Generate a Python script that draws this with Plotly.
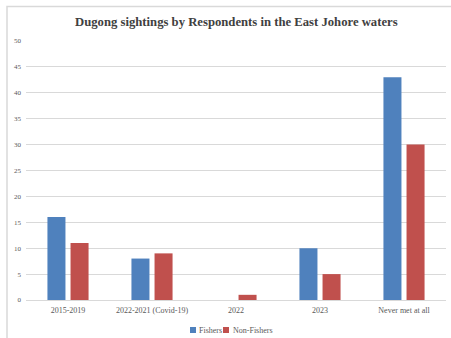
import plotly.graph_objects as go

categories = ["2015-2019", "2022-2021 (Covid-19)", "2022", "2023", "Never met at all"]
fishers = [16, 8, 0, 10, 43]
non_fishers = [11, 9, 1, 5, 30]
y_ticks = [0, 5, 10, 15, 20, 25, 30, 35, 40, 45, 50]
series_names = ["Fishers", "Non-Fishers"]
series_colors = ["#4F81BD", "#C0504D"]

W, H = 451, 338
ML, MR, MT, MB = 26, 5, 41, 38
PW, PH = W - ML - MR, H - MT - MB


def px_x(px):
    return (px - ML) / PW


def px_y(py):
    return (H - MB - py) / PH


font_family = "Liberation Serif"
tick_color = "#595959"

fig = go.Figure()
for name, vals, col in zip(series_names, [fishers, non_fishers], series_colors):
    fig.add_trace(go.Bar(name=name, x=categories, y=vals, marker_color=col,
                         marker_line_width=0, showlegend=False))

fig.update_layout(
    width=W, height=H,
    margin=dict(l=ML, r=MR, t=MT, b=MB, pad=0, autoexpand=False),
    paper_bgcolor="white", plot_bgcolor="white",
    barmode="group", bargap=0.45, bargroupgap=0.22,
    font=dict(family=font_family, size=8, color=tick_color),
    title=dict(text="<b>Dugong sightings by Respondents in the East Johore waters</b>",
               x=0.524, xanchor="center", y=1 - 22 / H, yanchor="middle", yref="container",
               font=dict(family=font_family, size=12.7, color="#404040")),
    showlegend=False,
)
fig.update_yaxes(range=[0, 50], tickvals=y_ticks, showgrid=True, gridcolor="#D9D9D9",
                 gridwidth=1, zeroline=False, showline=False, ticks="",
                 tickfont=dict(size=7, color=tick_color), ticklabelstandoff=4)
fig.update_xaxes(showline=True, linecolor="#D9D9D9", linewidth=1, ticks="",
                 tickfont=dict(size=8, color=tick_color), ticklabelstandoff=2)

# outer chart frame (right and bottom edges run past the page)
fig.add_shape(type="rect", xref="paper", yref="paper",
              x0=px_x(7), x1=px_x(456), y0=px_y(345), y1=px_y(6.5),
              line=dict(color="#D9D9D9", width=1.5), fillcolor="rgba(0,0,0,0)", layer="below")

# compact legend below the plot
legend_items = [(190, 197, series_names[0], series_colors[0]),
                (223, 231, series_names[1], series_colors[1])]
ly = 330
for sx, tx, name, col in legend_items:
    fig.add_shape(type="rect", xref="paper", yref="paper",
                  x0=px_x(sx), x1=px_x(sx + 6), y0=px_y(ly + 3), y1=px_y(ly - 3),
                  line_width=0, fillcolor=col)
    fig.add_annotation(text=name, xref="paper", yref="paper", x=px_x(tx), y=px_y(ly),
                       xanchor="left", yanchor="middle", showarrow=False,
                       font=dict(family=font_family, size=8, color=tick_color))

fig.write_html("out.html")
